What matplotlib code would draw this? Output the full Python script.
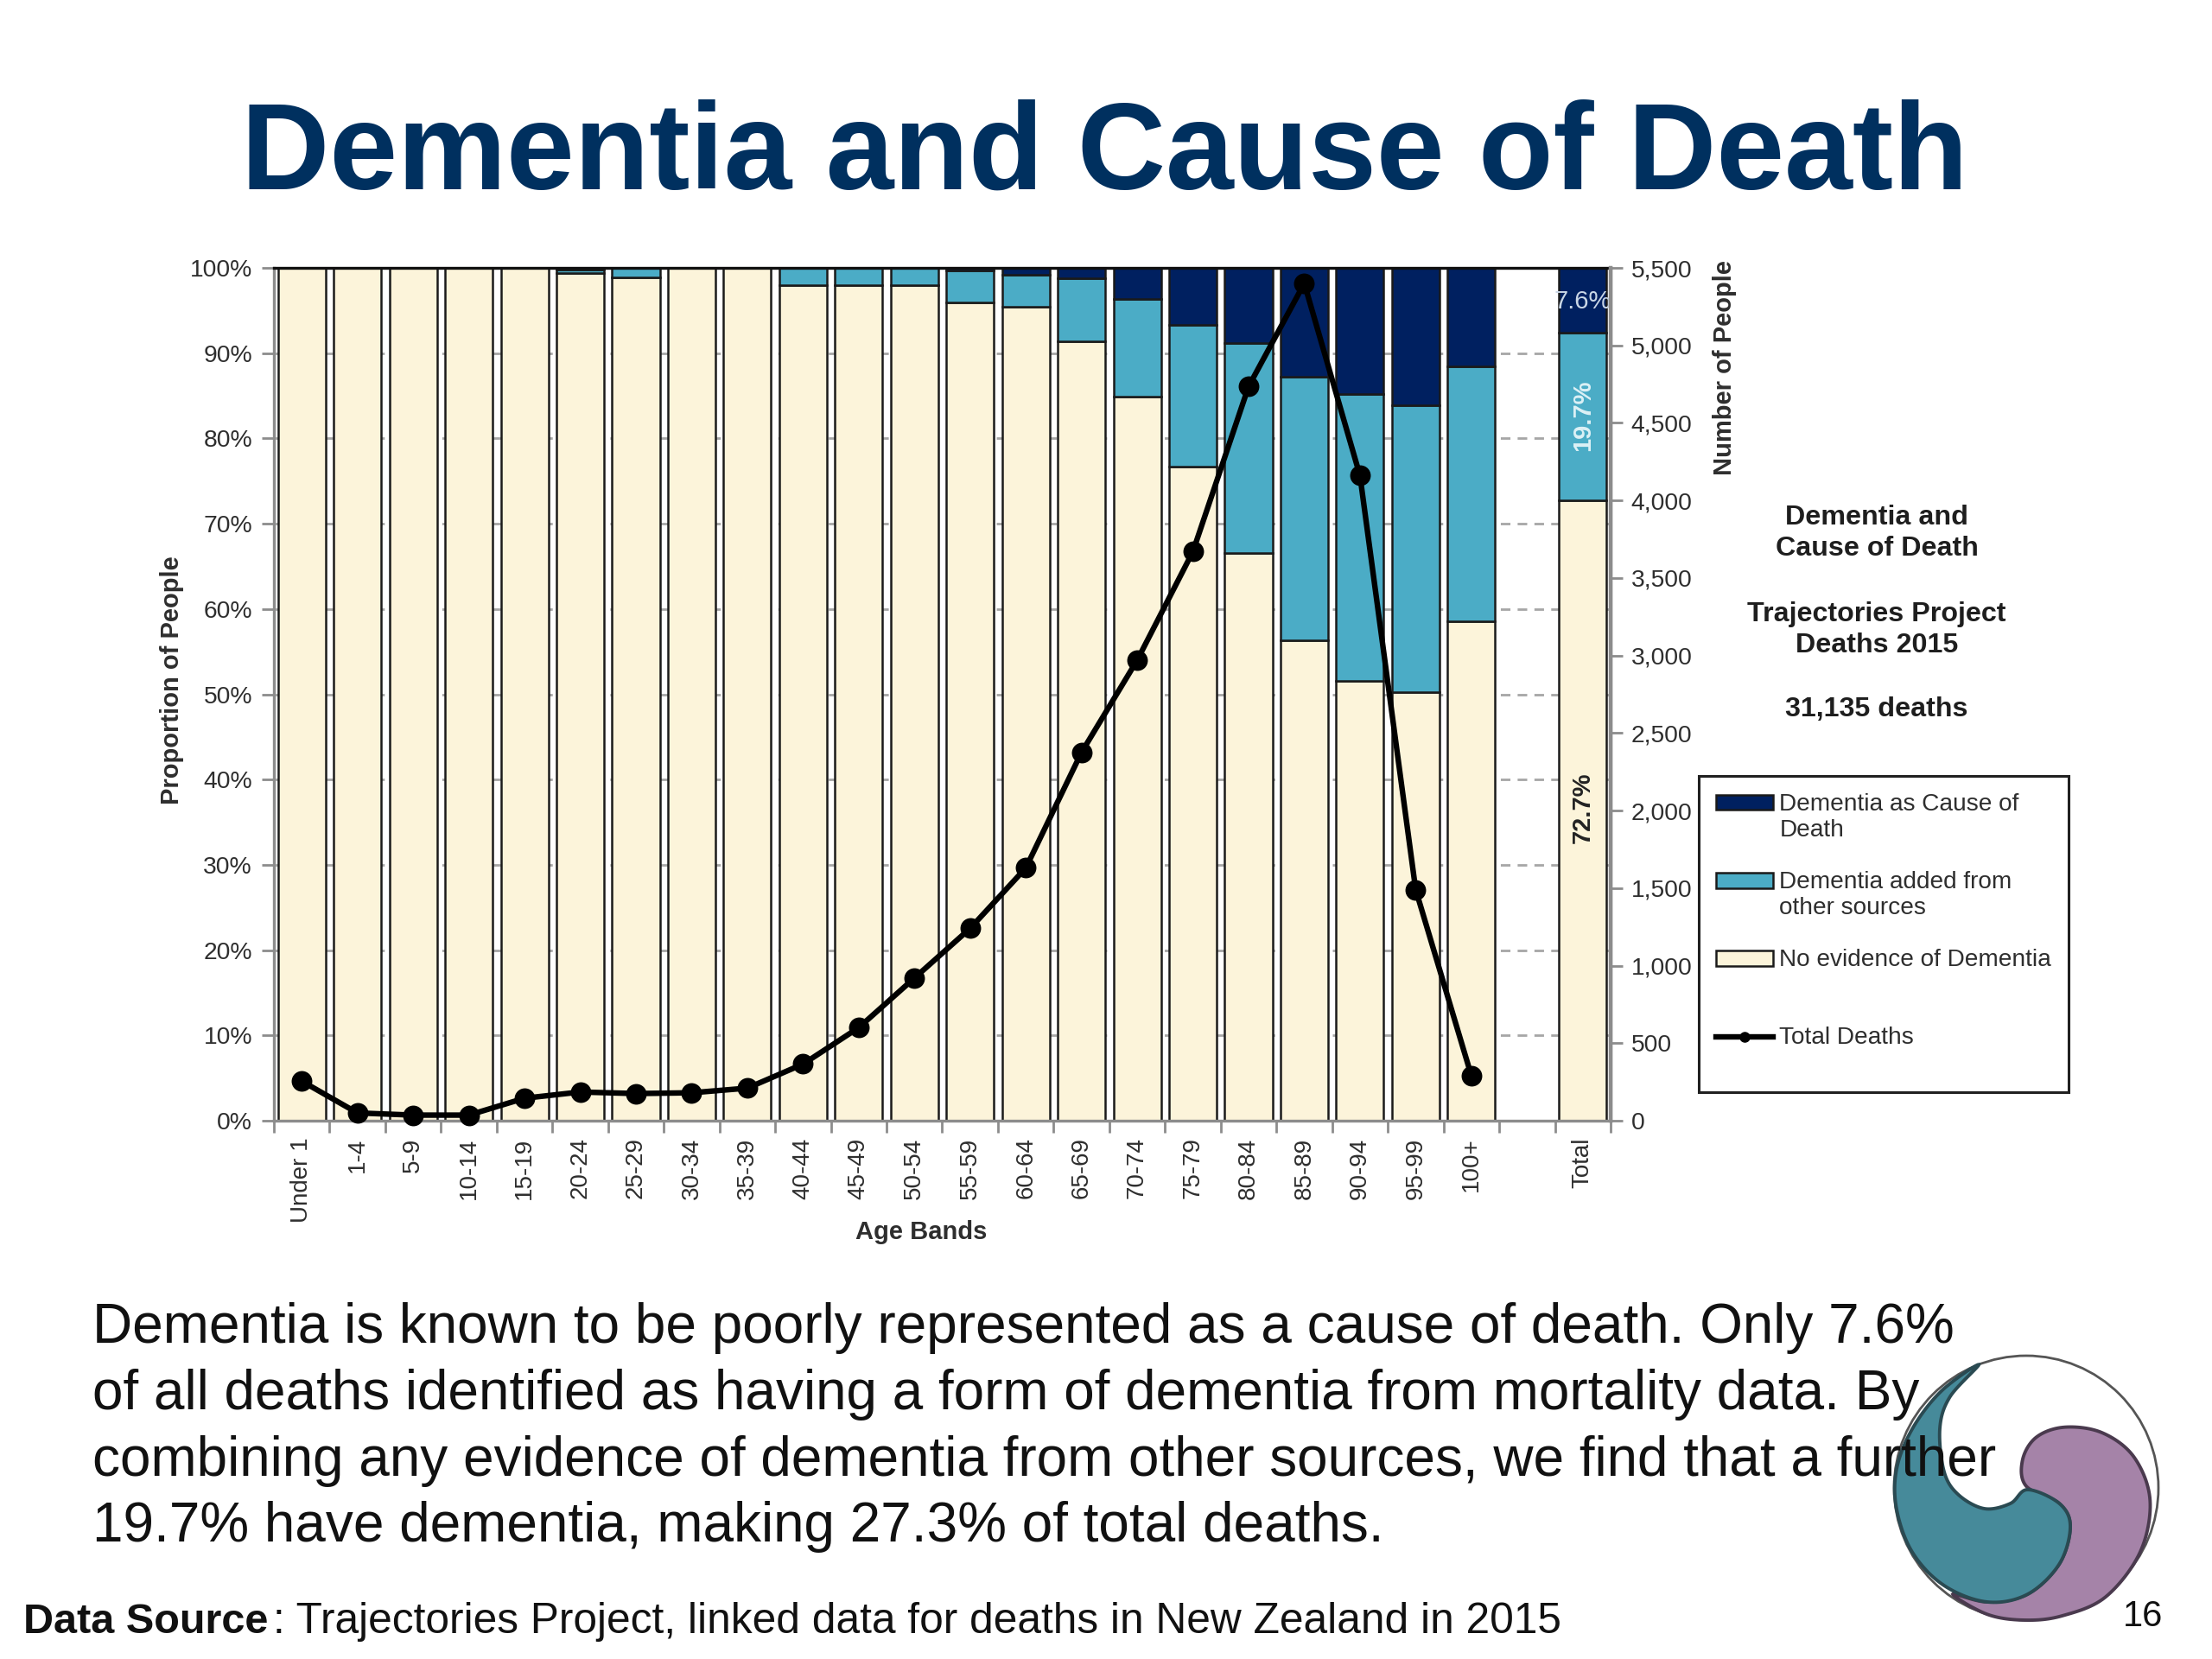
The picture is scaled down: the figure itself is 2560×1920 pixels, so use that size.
import matplotlib
matplotlib.use('Agg')
import matplotlib.pyplot as plt
import numpy as np
from matplotlib.patches import Polygon, Circle

plt.rcParams['font.family'] = ['Liberation Sans', 'DejaVu Sans']

# Chart data
age_bands = ['Under 1', '1-4', '5-9', '10-14', '15-19', '20-24', '25-29', '30-34', '35-39',
             '40-44', '45-49', '50-54', '55-59', '60-64', '65-69', '70-74', '75-79', '80-84',
             '85-89', '90-94', '95-99', '100+', '', 'Total']
no_evidence = [100, 100, 100, 100, 100, 99.4, 98.9, 100, 100, 98.0, 98.0, 98.0,
               95.9, 95.4, 91.4, 84.9, 76.7, 66.6, 56.3, 51.6, 50.3, 58.6, 0, 72.7]
added_sources = [0, 0, 0, 0, 0, 0.4, 1.1, 0, 0, 2.0, 2.0, 2.0,
                 3.8, 3.8, 7.4, 11.5, 16.6, 24.6, 30.9, 33.6, 33.6, 29.9, 0, 19.7]
cause_of_death = [0, 0, 0, 0, 0, 0.2, 0, 0, 0, 0, 0, 0,
                  0.3, 0.8, 1.2, 3.6, 6.7, 8.8, 12.8, 14.8, 16.1, 11.5, 0, 7.6]
total_deaths = [255, 50, 36, 36, 145, 185, 175, 180, 210, 365, 600, 920,
                1240, 1630, 2375, 2970, 3670, 4735, 5400, 4160, 1490, 290]

body_lines = ['Dementia is known to be poorly represented as a cause of death. Only 7.6%',
              'of all deaths identified as having a form of dementia from mortality data. By',
              'combining any evidence of dementia from other sources, we find that a further',
              '19.7% have dementia, making 27.3% of total deaths.']

NAVY = '#002060'
TEAL = '#4BACC6'
CREAM = '#FCF4DA'
TICK_GREY = '#8C8C8C'
TEXT_GREY = '#2E2E2E'

W, H = 2560, 1920
fig = plt.figure(figsize=(12.8, 9.6), dpi=200, facecolor='white')


def to_fig(x0, y0, x1, y1):
    return [x0 / W, 1 - y1 / H, (x1 - x0) / W, (y1 - y0) / H]


ax = fig.add_axes(to_fig(317, 310, 1864, 1297))
x = np.arange(len(age_bands))
no_ev = np.array(no_evidence)
added = np.array(added_sources)
cause = np.array(cause_of_death)

# Dashed grid sits behind the bars, shows in the gaps
ax.set_axisbelow(True)
ax.yaxis.grid(True, linestyle=(0, (4, 3)), color='#A6A6A6', linewidth=1.0)

bar_kw = dict(width=0.855, edgecolor='#1A1A1A', linewidth=0.9)
mask = no_ev + added + cause > 0
b1 = ax.bar(x[mask], no_ev[mask], color=CREAM, **bar_kw)
b2 = ax.bar(x[mask], added[mask], bottom=no_ev[mask], color=TEAL, **bar_kw)
b3 = ax.bar(x[mask], cause[mask], bottom=(no_ev + added)[mask], color=NAVY, **bar_kw)

ax.set_xlim(-0.5, len(age_bands) - 0.5)
ax.set_ylim(0, 100)
ax.set_yticks(np.arange(0, 101, 10))
ax.set_yticklabels([f'{v}%' for v in range(0, 101, 10)], fontsize=10.2, color=TEXT_GREY)
ax.set_xticks(x)
ax.set_xticklabels(age_bands, rotation=90, fontsize=10, color=TEXT_GREY)
ax.set_xticks(np.arange(-0.5, len(age_bands)), minor=True)
ax.tick_params(axis='x', which='major', length=0, pad=7)
ax.tick_params(axis='x', which='minor', length=5, width=1.0, color=TICK_GREY)
ax.tick_params(axis='y', length=5, width=1.0, color=TICK_GREY, pad=4)
for side in ['left', 'bottom', 'right']:
    ax.spines[side].set_color(TICK_GREY)
    ax.spines[side].set_linewidth(1.2)
ax.spines['top'].set_color('#101010')
ax.spines['top'].set_linewidth(1.2)

ax.set_ylabel('Proportion of People', fontsize=10.5, fontweight='bold', color=TEXT_GREY)
ax.yaxis.set_label_coords(-0.0675, 0.517)
ax.set_xlabel('Age Bands', fontsize=10.5, fontweight='bold', color=TEXT_GREY)
ax.xaxis.set_label_coords(0.484, -0.117)

# Labels on the Total bar
total_i = len(age_bands) - 1
ax.text(total_i, no_ev[-1] + added[-1] + cause[-1] / 2 - 0.2, f'{cause[-1]}%', color='#C9D6E6',
        fontsize=10.5, ha='center', va='center', clip_on=True)
ax.text(total_i, 82.7, f'{added[-1]}%', color='#DDF1F6', fontsize=10.5, fontweight='bold',
        rotation=90, ha='center', va='center')
ax.text(total_i, 36.7, f'{no_ev[-1]}%', color='#222222', fontsize=10.5, fontweight='bold',
        rotation=90, ha='center', va='center')

# Total deaths on the secondary axis
ax2 = ax.twinx()
ax2.set_ylim(0, 5500)
ax2.set_yticks(np.arange(0, 5501, 500))
ax2.set_yticklabels([f'{v:,}' for v in range(0, 5501, 500)], fontsize=10.2, color=TEXT_GREY)
ax2.tick_params(axis='y', length=5, width=1.0, color=TICK_GREY, pad=3.5)
for side in ax2.spines:
    ax2.spines[side].set_visible(False)
ax2.spines['right'].set_visible(True)
ax2.spines['right'].set_color(TICK_GREY)
ax2.spines['right'].set_linewidth(1.6)
line, = ax2.plot(x[:len(total_deaths)], total_deaths, color='black', linewidth=2.3, marker='o',
                 markersize=7.6, clip_on=False)
ax2.set_ylabel('Number of People', fontsize=10.5, fontweight='bold', color=TEXT_GREY)
ax2.yaxis.set_label_coords(1.0765, 0.883)

# Full-figure layer in pixel coordinates for slide text and the logo
over = fig.add_axes([0, 0, 1, 1], zorder=5)
over.set_xlim(0, W)
over.set_ylim(H, 0)
over.axis('off')
over.patch.set_alpha(0)

over.text(1278, 182, 'Dementia and Cause of Death', fontsize=51, fontweight='bold',
          color='#00305F', ha='center', va='center')

for lbl, y in [('Dementia and\nCause of Death', 617), ('Trajectories Project\nDeaths 2015', 729),
               ('31,135 deaths', 821)]:
    over.text(2172, y, lbl, fontsize=11.6, fontweight='bold', color='#1E1E1E', ha='center',
              va='center', linespacing=1.26)

leg = fig.legend(handles=[b3, b2, b1, line],
                 labels=['Dementia as Cause of\nDeath', 'Dementia added from\nother sources',
                         'No evidence of Dementia\n ', 'Total Deaths\n '],
                 loc='upper left', bbox_to_anchor=(1966 / W, 1 - 898 / H), bbox_transform=fig.transFigure,
                 fontsize=10.1, frameon=True, fancybox=False, edgecolor='#202020', framealpha=1,
                 labelspacing=1.22, handlelength=2.38, handleheight=0.6, handletextpad=0.25,
                 borderpad=0.7, borderaxespad=0)
leg.get_frame().set_linewidth(1.1)
leg.set_zorder(6)
for t in leg.get_texts():
    t.set_color(TEXT_GREY)
# Legend keys line up with the first text line, not the middle of two
key_shift = 6.2
for h in leg.legend_handles[:3]:
    h.set_y(h.get_y() + key_shift)
key_line = leg.legend_handles[3]
key_line.set_ydata(np.asarray(key_line.get_ydata()) + key_shift)
key_line.set_markersize(3.5)


# Logo: smooth closed outlines through a few traced points
def smooth_closed(pts, n=14):
    pts = np.array(pts, dtype=float)
    out = []
    for i in range(len(pts)):
        p0, p1, p2, p3 = pts[i - 1], pts[i], pts[(i + 1) % len(pts)], pts[(i + 2) % len(pts)]
        for t in np.linspace(0, 1, n, endpoint=False):
            out.append(0.5 * (2 * p1 + (p2 - p0) * t + (2 * p0 - 5 * p1 + 4 * p2 - p3) * t ** 2
                              + (3 * p1 - p0 - 3 * p2 + p3) * t ** 3))
    return np.array(out)


def logo_px(pts):
    return np.array(pts, dtype=float) / 3.0 + np.array([2100, 1540])


over.add_patch(Circle((2345, 1722), 153, facecolor='white', edgecolor='#555555', linewidth=1.0, zorder=1))
teal_outline = [(570, 118), (440, 210), (340, 340), (285, 480), (285, 620), (340, 770), (450, 885),
                (600, 942), (740, 915), (850, 810), (888, 680), (850, 600), (740, 552), (680, 600),
                (590, 618), (500, 570), (450, 490), (435, 340), (470, 230)]
purple_outline = [(735, 540), (722, 450), (770, 370), (870, 335), (1000, 355), (1110, 440), (1165, 590),
                  (1130, 770), (1010, 925), (860, 990), (730, 1005), (600, 985), (480, 915), (600, 942),
                  (740, 915), (850, 810), (888, 680), (850, 600)]
over.add_patch(Polygon(logo_px(smooth_closed(purple_outline)), closed=True, facecolor='#A583A8',
                       edgecolor='#4A3A4E', linewidth=1.4, zorder=2))
over.add_patch(Polygon(logo_px(smooth_closed(teal_outline)), closed=True, facecolor='#468A9A',
                       edgecolor='#2A4A52', linewidth=1.4, zorder=3))

for i, txt in enumerate(body_lines):
    over.text(107, 1537 + i * 76.8, txt, fontsize=23, color='#111111', ha='left', va='center', zorder=4)

over.text(27, 1877, 'Data Source', fontsize=17.5, fontweight='bold', color='#111111', ha='left', va='center', zorder=4)
over.text(316, 1877, ': Trajectories Project, linked data for deaths in New Zealand in 2015',
          fontsize=17.85, color='#111111', ha='left', va='center', zorder=4)
over.text(2480, 1871, '16', fontsize=15, color='#111111', ha='center', va='center', zorder=4)

fig.savefig('out.png', dpi=200, facecolor='white')
